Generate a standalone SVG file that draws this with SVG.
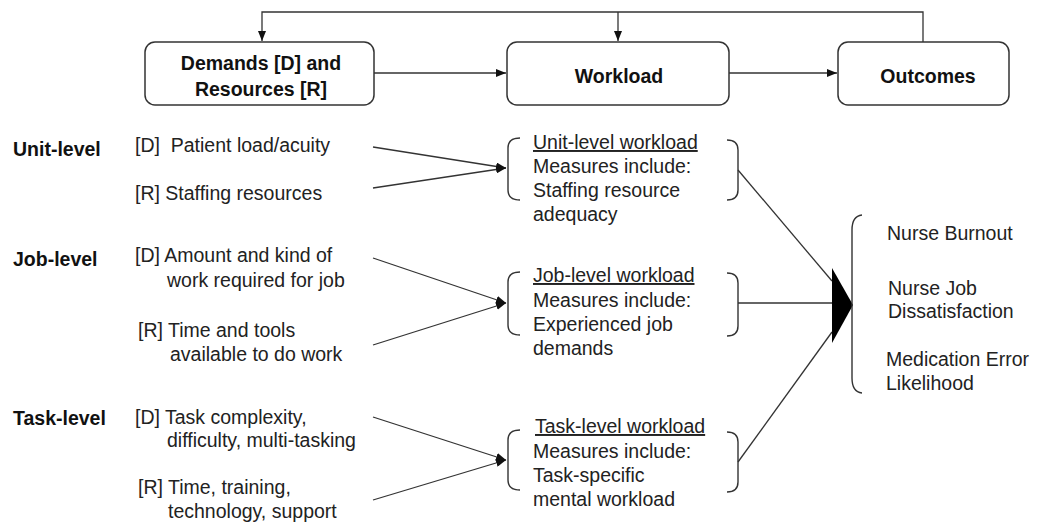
<svg xmlns="http://www.w3.org/2000/svg" width="1044" height="527" viewBox="0 0 1044 527">
  <defs>
    <marker id="arrow" markerUnits="userSpaceOnUse" markerWidth="10" markerHeight="8" refX="10" refY="4" orient="auto">
      <path d="M0,0 L10,4 L0,8 z" fill="#111"/>
    </marker>
  </defs>
  <style>
    text { font-family: "Liberation Sans", Arial, sans-serif; font-size: 19.5px; fill: #222; }
    .b { font-weight: bold; fill: #111; }
    .mid { text-anchor: middle; }
    .u { text-decoration: underline; }
    .box { fill: #fff; stroke: #333; stroke-width: 1.5; }
    .ln { fill: none; stroke: #333; stroke-width: 1.3; }
    .br { fill: none; stroke: #333; stroke-width: 1.4; }
  </style>
  <rect width="1044" height="527" fill="#fff"/>

  <!-- connectors -->
  <g id="connectors">
    <path class="ln" d="M923,42 V12 H262 V41" marker-end="url(#arrow)"/>
    <path class="ln" d="M618,12 V41" marker-end="url(#arrow)"/>
    <path class="ln" d="M374,73 H506" marker-end="url(#arrow)"/>
    <path class="ln" d="M729,73 H837" marker-end="url(#arrow)"/>

    <path class="ln" d="M373,147 L506,168" marker-end="url(#arrow)"/>
    <path class="ln" d="M373,188 L506,168" marker-end="url(#arrow)"/>
    <path class="ln" d="M373,258 L506,303" marker-end="url(#arrow)"/>
    <path class="ln" d="M373,345 L506,303" marker-end="url(#arrow)"/>
    <path class="ln" d="M373,417 L506,460" marker-end="url(#arrow)"/>
    <path class="ln" d="M373,500 L506,460" marker-end="url(#arrow)"/>

    <path class="ln" d="M738,170 L832,281"/>
    <path class="ln" d="M738,303 H832"/>
    <path class="ln" d="M738,462 L832,332"/>
    <polygon points="832,268 832,343 853,305" fill="#000"/>
  </g>

  <!-- top row -->
  <g id="node-demands">
    <rect class="box" x="145" y="42" width="229" height="63" rx="10"/>
    <text class="b mid" x="261" y="70">Demands [D] and</text>
    <text class="b mid" x="261" y="96">Resources [R]</text>
  </g>
  <g id="node-workload">
    <rect class="box" x="507" y="42" width="222" height="63" rx="10"/>
    <text class="b mid" x="619" y="83">Workload</text>
  </g>
  <g id="node-outcomes">
    <rect class="box" x="838" y="42" width="171" height="63" rx="10"/>
    <text class="b mid" x="928" y="83">Outcomes</text>
  </g>

  <!-- unit level -->
  <g id="node-unit-sources">
    <text class="b" x="13" y="156">Unit-level</text>
    <text x="135" y="152" xml:space="preserve">[D]  Patient load/acuity</text>
    <text x="135" y="200">[R] Staffing resources</text>
  </g>
  <g id="node-unit-workload">
    <path class="br" d="M520,138 Q508,138 508,148 V190 Q508,200 520,200"/>
    <path class="br" d="M727,140 Q738,140 738,150 V190 Q738,200 727,200"/>
    <text class="u" x="533" y="149">Unit-level workload</text>
    <text x="533" y="173">Measures include:</text>
    <text x="533" y="197">Staffing resource</text>
    <text x="533" y="221">adequacy</text>
  </g>

  <!-- job level -->
  <g id="node-job-sources">
    <text class="b" x="13" y="266">Job-level</text>
    <text x="135" y="262">[D] Amount and kind of</text>
    <text x="167" y="287">work required for job</text>
    <text x="138" y="337">[R] Time and tools</text>
    <text x="170" y="361">available to do work</text>
  </g>
  <g id="node-job-workload">
    <path class="br" d="M520,272 Q508,272 508,282 V325 Q508,335 520,335"/>
    <path class="br" d="M727,273 Q738,273 738,283 V326 Q738,336 727,336"/>
    <text class="u" x="533" y="282">Job-level workload</text>
    <text x="533" y="307">Measures include:</text>
    <text x="533" y="331">Experienced job</text>
    <text x="533" y="355">demands</text>
  </g>

  <!-- task level -->
  <g id="node-task-sources">
    <text class="b" x="13" y="425">Task-level</text>
    <text x="135" y="424">[D] Task complexity,</text>
    <text x="167" y="447">difficulty, multi-tasking</text>
    <text x="138" y="494">[R] Time, training,</text>
    <text x="168" y="518">technology, support</text>
  </g>
  <g id="node-task-workload">
    <path class="br" d="M520,430 Q508,430 508,440 V480 Q508,490 520,490"/>
    <path class="br" d="M727,432 Q738,432 738,442 V482 Q738,492 727,492"/>
    <text class="u" x="535" y="433">Task-level workload</text>
    <text x="533" y="458">Measures include:</text>
    <text x="533" y="482">Task-specific</text>
    <text x="533" y="506">mental workload</text>
  </g>

  <!-- outcome list -->
  <g id="node-outcome-list">
    <path class="br" d="M862,215 Q852,216 852,230 V378 Q852,392 862,393"/>
    <text x="887" y="240">Nurse Burnout</text>
    <text x="888" y="295">Nurse Job</text>
    <text x="888" y="318">Dissatisfaction</text>
    <text x="886" y="366">Medication Error</text>
    <text x="886" y="390">Likelihood</text>
  </g>
</svg>
